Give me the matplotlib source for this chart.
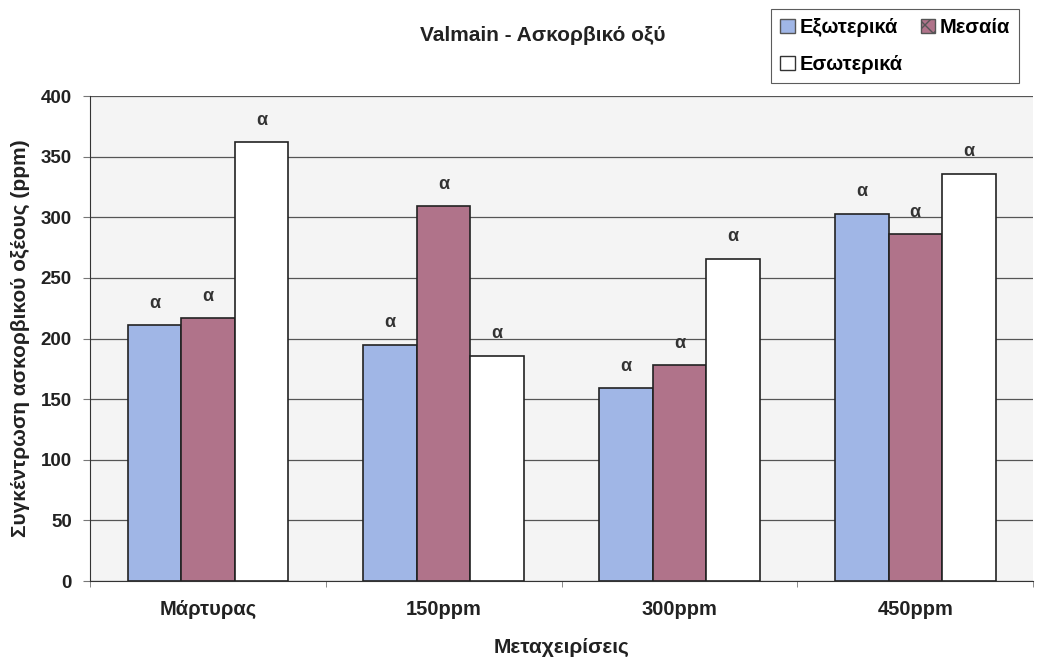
import numpy as np
import matplotlib
matplotlib.use('Agg')
import matplotlib.pyplot as plt
from matplotlib.patches import Patch

plt.rcParams['font.family'] = ['Liberation Sans', 'DejaVu Sans']
plt.rcParams['font.weight'] = 'bold'
plt.rcParams['axes.labelweight'] = 'bold'

categories = ['Μάρτυρας', '150ppm', '300ppm', '450ppm']
exoterika = [211, 195, 159, 303]
mesaia = [217, 309, 178, 286]
esoterika = [362, 186, 266, 336]
letters = ['α', 'α', 'α', 'α']

series_names = ['Εξωτερικά', 'Μεσαία', 'Εσωτερικά']
colors = ['#a0b6e6', '#b0738a', '#ffffff']

fig = plt.figure(figsize=(10.41, 6.58), dpi=100)
ax = fig.add_axes([0.0865, 0.117, 0.906, 0.737])
ax.set_facecolor('#f4f4f4')

x = np.arange(len(categories))
w = 0.227
for i, (vals, col) in enumerate(zip([exoterika, mesaia, esoterika], colors)):
    pos = x + (i - 1) * w
    ax.bar(pos, vals, width=w, color=col, edgecolor='#222222', linewidth=1.2, zorder=3)
    for p, v, l in zip(pos, vals, letters):
        ax.text(p, v + 11, l, ha='center', va='bottom', fontsize=13, color='#333333')

ax.set_xlim(-0.5, len(categories) - 0.5)
ax.set_ylim(0, 400)
ax.set_yticks(range(0, 401, 50))
ax.yaxis.grid(True, color='#555555', linewidth=0.9, zorder=0)
ax.set_xticks(x)
ax.set_xticklabels(categories, fontsize=14.5, color='#222222')
ax.set_xticks(np.arange(-0.5, len(categories)), minor=True)
ax.tick_params(axis='x', which='major', length=0, pad=14)
ax.tick_params(axis='x', which='minor', length=4, color='#777777')
ax.tick_params(axis='y', labelsize=13.5, length=5, color='#777777', pad=8, labelcolor='#222222')

for s in ['top', 'right']:
    ax.spines[s].set_visible(False)
ax.spines['left'].set_color('#333333')
ax.spines['bottom'].set_color('#333333')

ax.set_xlabel('Μεταχειρίσεις', fontsize=15, color='#222222')
ax.xaxis.set_label_coords(0.5, -0.118)
ax.set_ylabel('Συγκέντρωση ασκορβικού οξέους (ppm)', fontsize=15, labelpad=8, color='#222222')
fig.text(0.521, 0.946, 'Valmain - Ασκορβικό οξύ', ha='center', va='center', fontsize=15, color='#222222')

# column-major fill: order so rows read Εξωτερικά Μεσαία / Εσωτερικά
handles = [Patch(facecolor=colors[0], edgecolor='#555555'),
           Patch(facecolor=colors[2], edgecolor='#333333'),
           Patch(facecolor=colors[1], edgecolor='#555555', hatch='xx')]
labels = [series_names[0], series_names[2], series_names[1]]
leg = fig.legend(handles, labels, loc='upper left', bbox_to_anchor=(0.741, 0.986),
                 ncol=2, fontsize=14.5, frameon=True, fancybox=False, handlelength=0.7,
                 handleheight=0.7, handletextpad=0.25, columnspacing=0.9, borderpad=0.45,
                 labelspacing=0.9, borderaxespad=0)
leg.get_frame().set_edgecolor('#333333')
leg.get_frame().set_linewidth(0.8)

fig.savefig('out.png', dpi=100)
